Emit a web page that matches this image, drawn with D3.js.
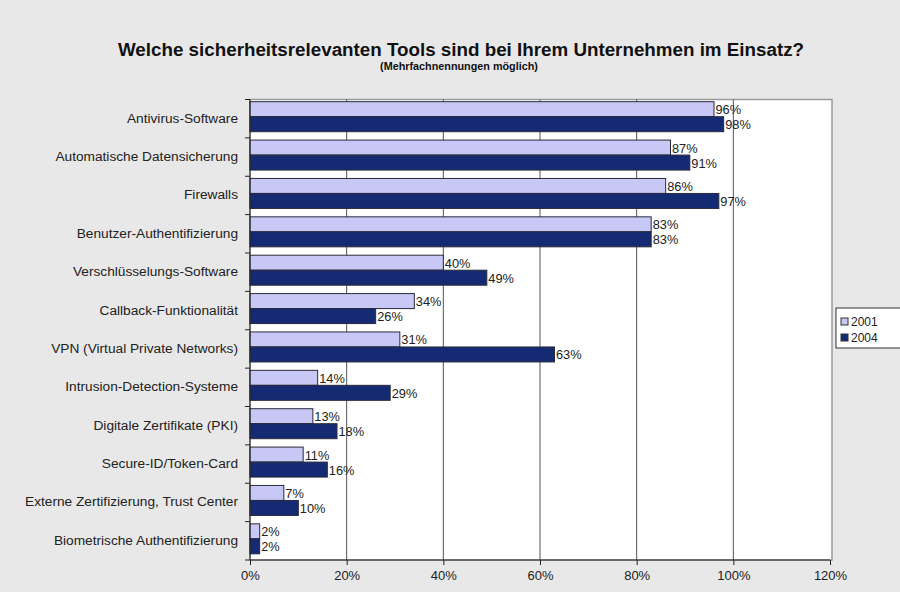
<!DOCTYPE html>
<html>
<head>
<meta charset="utf-8">
<script src="https://cdn.jsdelivr.net/npm/d3@7"></script>
<style>
  body { margin: 0; background: #e8e8e8; }
  svg { display: block; font-family: "Liberation Sans", Arial, sans-serif; }
</style>
</head>
<body>
<div id="container"></div>
<script>
let w = 900;
let h = 592;

// data
let categories = [
  "Antivirus-Software",
  "Automatische Datensicherung",
  "Firewalls",
  "Benutzer-Authentifizierung",
  "Verschlüsselungs-Software",
  "Callback-Funktionalität",
  "VPN (Virtual Private Networks)",
  "Intrusion-Detection-Systeme",
  "Digitale Zertifikate (PKI)",
  "Secure-ID/Token-Card",
  "Externe Zertifizierung, Trust Center",
  "Biometrische Authentifizierung"
];
let values2001 = [96, 87, 86, 83, 40, 34, 31, 14, 13, 11, 7, 2];
let values2004 = [98, 91, 97, 83, 49, 26, 63, 29, 18, 16, 10, 2];
let seriesNames = ["2001", "2004"];
let xTicks = [0, 20, 40, 60, 80, 100, 120];

let colors = ["#c8c8f6", "#142a72"];

let plotLeft = 250, plotRight = 830, plotTop = 99.5, plotBottom = 560;

let viz = d3.select("#container")
  .append("svg")
    .attr("width", w)
    .attr("height", h)
;

viz.append("rect").attr("width", w).attr("height", h).attr("fill", "#e8e8e8");

// title
viz.append("text")
    .attr("x", 461).attr("y", 56)
    .attr("text-anchor", "middle")
    .attr("font-size", "18.8px")
    .attr("font-weight", "bold")
    .attr("fill", "#111")
    .text("Welche sicherheitsrelevanten Tools sind bei Ihrem Unternehmen im Einsatz?");
viz.append("text")
    .attr("x", 459).attr("y", 70)
    .attr("text-anchor", "middle")
    .attr("font-size", "10.8px")
    .attr("font-weight", "bold")
    .attr("fill", "#111")
    .text("(Mehrfachnennungen möglich)");

// scales
let xScale = d3.scaleLinear().domain([0, 120]).range([plotLeft, plotRight]);
let yScale = d3.scaleBand().domain(categories).range([plotTop, plotBottom]);

// plot area
viz.append("rect")
    .attr("x", plotLeft).attr("y", plotTop)
    .attr("width", plotRight - plotLeft + 2).attr("height", plotBottom - plotTop)
    .attr("fill", "white")
    .attr("stroke", "#9a9a9a")
    .attr("stroke-width", 1.5);

// grid lines
viz.append("g").selectAll("line").data(xTicks.slice(1, -1)).enter()
  .append("line")
    .attr("x1", d => xScale(d)).attr("x2", d => xScale(d))
    .attr("y1", plotTop).attr("y2", plotBottom)
    .attr("stroke", "#555")
    .attr("stroke-width", 1);

// bars
let barH = 15;
let series = [values2001, values2004];
let groups = viz.append("g").selectAll("g").data(categories).enter()
  .append("g")
    .attr("transform", d => "translate(0," + yScale(d) + ")");

groups.each(function(cat, i) {
  let g = d3.select(this);
  series.forEach(function(vals, s) {
    let y0 = 2.2 + s * barH;
    g.append("rect")
        .attr("x", xScale(0))
        .attr("y", y0)
        .attr("width", xScale(vals[i]) - xScale(0))
        .attr("height", barH)
        .attr("fill", colors[s])
        .attr("stroke", "#2a2a3a")
        .attr("stroke-width", 1);
    g.append("text")
        .attr("x", xScale(vals[i]) + 1.5)
        .attr("y", y0 + barH / 2 + 5)
        .attr("font-size", "12.8px")
        .attr("fill", "#222")
        .text(vals[i] + "%");
  });
});

// y axis
let yAxisGroup = viz.append("g").attr("class", "yaxis")
  .attr("transform", "translate(" + plotLeft + ",0)");
yAxisGroup.append("line")
    .attr("x1", 0).attr("x2", 0).attr("y1", plotTop).attr("y2", plotBottom)
    .attr("stroke", "#222");
yAxisGroup.selectAll(".tk").data(categories.concat(["_end"])).enter()
  .append("line")
    .attr("x1", -5).attr("x2", 0)
    .attr("y1", (d, i) => plotTop + i * yScale.step())
    .attr("y2", (d, i) => plotTop + i * yScale.step())
    .attr("stroke", "#222");
yAxisGroup.selectAll("text").data(categories).enter()
  .append("text")
    .attr("x", -12)
    .attr("y", d => yScale(d) + yScale.bandwidth() / 2 + 4)
    .attr("text-anchor", "end")
    .attr("font-size", "13.7px")
    .attr("fill", "#222")
    .text(d => d);

// x axis
let xAxis = d3.axisBottom(xScale).tickValues(xTicks).tickSize(5).tickFormat(d => d + "%");
let xAxisGroup = viz.append("g").attr("class", "xaxis")
  .attr("transform", "translate(0," + plotBottom + ")")
  .call(xAxis);
xAxisGroup.select(".domain").attr("stroke", "#222").attr("d", "M" + plotLeft + ",0H" + plotRight);
xAxisGroup.selectAll(".tick line").attr("stroke", "#222").attr("y1", 0).attr("y2", 5);
xAxisGroup.selectAll(".tick text")
    .attr("font-family", "Liberation Sans, Arial, sans-serif")
    .attr("font-size", "13px")
    .attr("fill", "#222")
    .attr("dy", "0.95em");

// legend
let legend = viz.append("g").attr("transform", "translate(836,308)");
legend.append("rect")
    .attr("x", 0).attr("y", 0).attr("width", 80).attr("height", 40)
    .attr("fill", "white").attr("stroke", "#333");
seriesNames.forEach(function(name, s) {
  legend.append("rect")
      .attr("x", 5).attr("y", 10 + s * 16)
      .attr("width", 7).attr("height", 7)
      .attr("fill", colors[s]).attr("stroke", "#333");
  legend.append("text")
      .attr("x", 15).attr("y", 18 + s * 16)
      .attr("font-size", "12px")
      .attr("fill", "#222")
      .text(name);
});
</script>
</body>
</html>
